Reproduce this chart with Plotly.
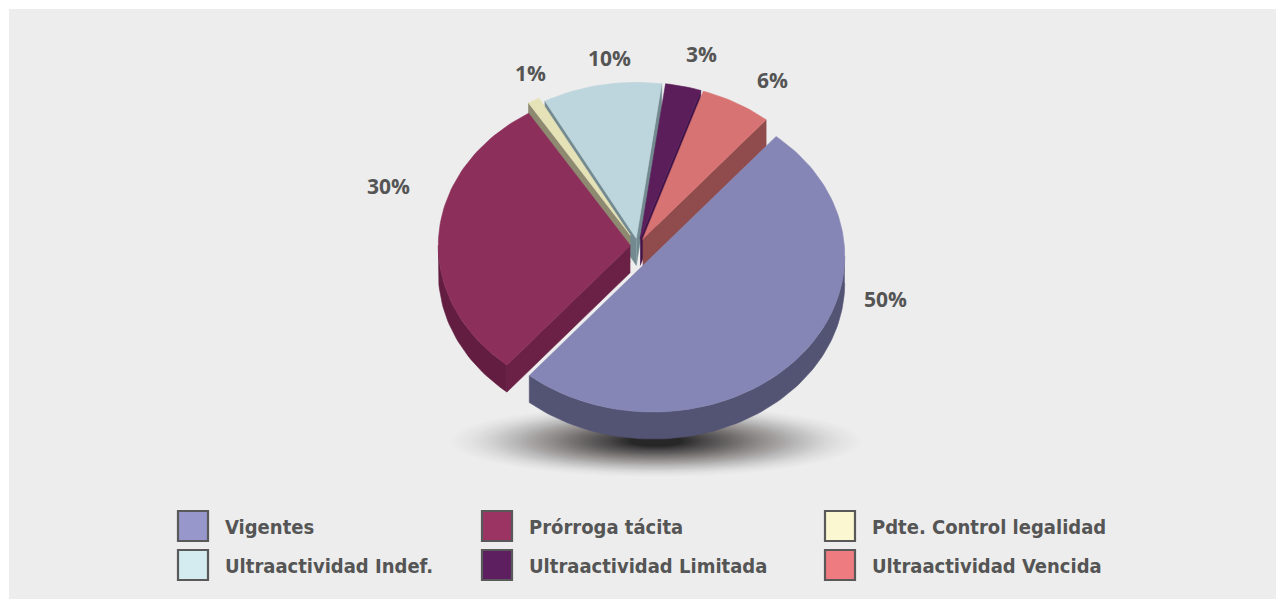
import numpy as np
import plotly.graph_objects as go

# ---------------- data ----------------
categories = ["Vigentes", "Prórroga tácita", "Pdte. Control legalidad",
              "Ultraactividad Indef.", "Ultraactividad Limitada", "Ultraactividad Vencida"]
values = [50, 30, 1, 10, 3, 6]
pct_labels = ["50%", "30%", "1%", "10%", "3%", "6%"]

# ---------------- style ----------------
W, H = 1284, 599
OFF = 8                    # page margin of the html body
BG = "#ededed"
CX, CY = 638, 246          # base centre (screen pixels)
RX, RY = 192, 156          # ellipse radii of the top face
DEPTH = 27
START_ANGLE = 40           # degrees clockwise from 12 o'clock
PULL = [0.10, 0.04, 0.08, 0.05, 0.05, 0.05]
TOP = ["#8686b6", "#8c2f5b", "#e6e2b8", "#bdd5dc", "#5b1e5b", "#d87373"]
WALL = ["#535374", "#621d40", "#8f8b6f", "#6f878c", "#3c1240", "#8f4b4b"]
RWALL = ["#5a5a7c", "#6b2046", "#8e8a72", "#728a90", "#43144a", "#904c4c"]
LEG = ["#9797cc", "#9b3363", "#fbf7d0", "#d4ecf0", "#5d1f5f", "#ee7b80"]
LABEL_R = (255, 195)
LABEL_NUDGE = [(52, -72), (5, -46), (21, -4), (18, 4), (6, -2), (10, 4)]
TXT = "#555555"
LEG_FONT = "DejaVu Sans Condensed, Liberation Sans Narrow, Roboto, sans-serif"

fig = go.Figure()


def pt(cx, cy, a, dz=0.0):
    r = np.radians(a)
    return cx + RX * np.sin(r), cy - RY * np.cos(r) + dz


def arc(cx, cy, a1, a2, dz=0.0):
    n = max(int(abs(a2 - a1) / 1.5) + 2, 3)
    a = np.linspace(a1, a2, n)
    r = np.radians(a)
    return list(cx + RX * np.sin(r)), list(cy - RY * np.cos(r) + dz)


def poly(xs, ys, color):
    fig.add_trace(go.Scatter(x=xs, y=ys, mode="lines", fill="toself",
                             fillcolor=color, line=dict(color=color, width=0.6),
                             hoverinfo="skip", showlegend=False))


total = float(sum(values))
slices = []
a = START_ANGLE
for i, v in enumerate(values):
    span = 360.0 * v / total
    a1, a2 = a, a + span
    mid = (a1 + a2) / 2
    r = np.radians(mid)
    cx = CX + PULL[i] * RX * np.sin(r)
    cy = CY - PULL[i] * RY * np.cos(r)
    slices.append(dict(i=i, a1=a1, a2=a2, mid=mid, cx=cx, cy=cy))
    a = a2

# painter's order: back slices first
for s in sorted(slices, key=lambda s: -np.cos(np.radians(s["mid"]))):
    i, a1, a2, cx, cy = s["i"], s["a1"], s["a2"], s["cx"], s["cy"]
    if np.sin(np.radians(a1)) < 0:
        px, py = pt(cx, cy, a1)
        poly([cx, px, px, cx], [cy, py, py + DEPTH, cy + DEPTH], RWALL[i])
    if np.sin(np.radians(a2)) > 0:
        px, py = pt(cx, cy, a2)
        poly([cx, px, px, cx], [cy, py, py + DEPTH, cy + DEPTH], RWALL[i])
    for lo, hi in [(90, 270), (450, 630)]:
        b1, b2 = max(a1, lo), min(a2, hi)
        if b2 > b1:
            tx, ty = arc(cx, cy, b1, b2)
            bx, by = arc(cx, cy, b2, b1, DEPTH)
            poly(tx + bx, ty + by, WALL[i])
    tx, ty = arc(cx, cy, a1, a2)
    poly([cx] + tx + [cx], [cy] + ty + [cy], TOP[i])

# percentage labels
for s in slices:
    i = s["i"]
    r = np.radians(s["mid"])
    lx = CX + LABEL_R[0] * np.sin(r) + LABEL_NUDGE[i][0]
    ly = CY - LABEL_R[1] * np.cos(r) + LABEL_NUDGE[i][1]
    fig.add_annotation(x=lx, y=ly, text=pct_labels[i], showarrow=False,
                       font=dict(family="Open Sans", size=21, color=TXT, weight="bold"),
                       xanchor="center", yanchor="middle")

shapes = [dict(type="rect", xref="x", yref="y", x0=9, x1=W + OFF, y0=9, y1=H + OFF,
               fillcolor=BG, line=dict(width=0), layer="below")]
# soft shadow under the pie
SH_CX, SH_CY = 656, 441
NSH = 60
for k in range(NSH):
    t = k / float(NSH)
    g = (1 - t) ** 1.4
    rx = 25 + 180 * g
    ry = 5 + 31 * g
    alpha = 0.006 + 0.055 * t
    shapes.append(dict(type="circle", xref="x", yref="y",
                       x0=SH_CX - rx, x1=SH_CX + rx, y0=SH_CY - ry, y1=SH_CY + ry,
                       fillcolor="rgba(25,20,20,%.4f)" % alpha, line=dict(width=0),
                       layer="below"))

# legend (3 columns x 2 rows)
COL_X = [178, 482, 825]
ROW_Y = [526, 565]
SQ = 30
for j, name in enumerate(categories):
    col, row = j % 3, j // 3
    x0, yc = COL_X[col], ROW_Y[row]
    shapes.append(dict(type="rect", xref="x", yref="y", x0=x0, x1=x0 + SQ,
                       y0=yc - SQ / 2, y1=yc + SQ / 2, fillcolor=LEG[j],
                       line=dict(color="#595959", width=2.2), layer="above"))
    fig.add_annotation(x=x0 + 45, y=yc + 1, text=name, showarrow=False,
                       xanchor="left", yanchor="middle",
                       font=dict(family=LEG_FONT, size=20, color=TXT, weight="bold"))

fig.update_layout(
    width=W, height=H, autosize=False,
    margin=dict(l=0, r=0, t=0, b=0),
    paper_bgcolor="white", plot_bgcolor="white",
    xaxis=dict(range=[OFF, W + OFF], visible=False, fixedrange=True),
    yaxis=dict(range=[H + OFF, OFF], visible=False, fixedrange=True),
    shapes=shapes, showlegend=False,
)

fig.write_html("out.html")
